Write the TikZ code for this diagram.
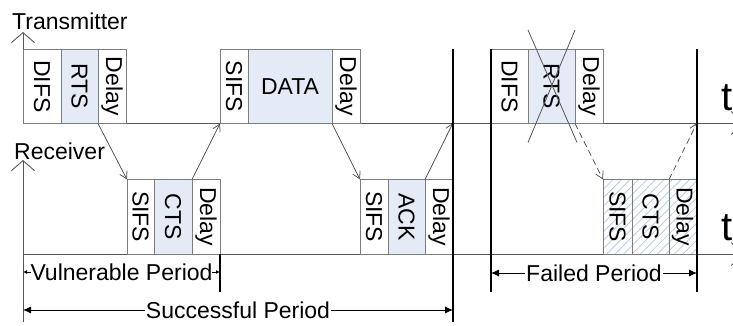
\documentclass[tikz,border=0pt]{standalone}
\usepackage{fontspec}
\setmainfont{Liberation Sans}
\usepackage{xcolor}
\usetikzlibrary{arrows.meta,positioning,patterns.meta}

\definecolor{boxgray}{RGB}{125,125,125}
\definecolor{axisgray}{RGB}{85,85,85}
\definecolor{pktblue}{RGB}{228,235,247}
\definecolor{hatchblue}{RGB}{178,196,228}
\newcommand{\vtxt}[1]{\rotatebox{-90}{#1}}

\begin{document}
\begin{tikzpicture}[
  x=1pt, y=-1pt,
  slot/.style={draw=boxgray, line width=0.9pt, minimum height=74.5pt, inner sep=0pt, outer sep=0pt, font=\fontsize{23}{23}\selectfont},
  pkt/.style={slot, fill=pktblue},
  lost/.style={slot, pattern={Lines[angle=45,distance=6pt,line width=0.7pt]}, pattern color=hatchblue},
  lbl/.style={font=\fontsize{23}{23}\selectfont, inner sep=0pt},
  tlbl/.style={font=\fontsize{40}{40}\selectfont, inner sep=0pt},
  axis/.style={draw=axisgray, line width=0.9pt},
  bound/.style={draw=black, line width=1.3pt},
  sig/.style={-{Straight Barb[length=7pt,width=8pt]}, draw=axisgray, line width=0.8pt},
  periodarr/.style={{Latex[length=8pt,width=7pt]}-{Latex[length=8pt,width=7pt]}, line width=0.8pt}
]
\useasboundingbox (0,0) rectangle (733,326);

% axes
\coordinate (torig) at (23,123);
\coordinate (ttop) at (23,32);
\coordinate (tend) at (742,123);
\coordinate (rorig) at (23,254);
\coordinate (rtop) at (23,160);
\coordinate (rend) at (742,254);
\draw[axis, -{Straight Barb[length=10pt,width=23pt]}] (torig) -- (ttop);
\draw[axis, -{Straight Barb[length=10pt,width=23pt]}] (torig) -- (tend);
\draw[axis, -{Straight Barb[length=10pt,width=23pt]}] (rorig) -- (rtop);
\draw[axis, -{Straight Barb[length=10pt,width=23pt]}] (rorig) -- (rend);
\node[lbl, anchor=west] (tx) at (12,21) {Transmitter};
\node[lbl, anchor=west] (rx) at (14,151) {Receiver};
\node[tlbl, anchor=west] (tt) at (721,98) {t};
\node[tlbl, anchor=west] (rt) at (721,228) {t};

% transmitter frames
\node[slot, minimum width=38pt, anchor=north west] (tdifs) at (23,49) {\vtxt{DIFS}};
\node[pkt, minimum width=37pt, right=0pt of tdifs] (trts) {\vtxt{RTS}};
\node[slot, minimum width=28pt, right=0pt of trts] (tdelay) {\vtxt{Delay}};
\node[slot, minimum width=28pt, anchor=north west] (tsifs) at (220,49) {\vtxt{SIFS}};
\node[pkt, minimum width=84pt, right=0pt of tsifs] (tdata) {DATA};
\node[slot, minimum width=28pt, right=0pt of tdata] (tdelay2) {\vtxt{Delay}};
\node[slot, minimum width=37pt, anchor=north west] (fdifs) at (491,49) {\vtxt{DIFS}};
\node[pkt, minimum width=47pt, right=0pt of fdifs] (frts) {\vtxt{RTS}};
\node[slot, minimum width=28pt, right=0pt of frts] (fdelay) {\vtxt{Delay}};
\draw[axisgray, line width=0.8pt] ([shift={(0,-19)}]frts.north west) -- ([shift={(2,19)}]frts.south east);
\draw[axisgray, line width=0.8pt] ([shift={(0,-19)}]frts.north east) -- ([shift={(0,19)}]frts.south west);

% receiver frames
\node[slot, minimum width=27pt, anchor=north west] (rsifs) at (127,179.5) {\vtxt{SIFS}};
\node[pkt, minimum width=38pt, right=0pt of rsifs] (rcts) {\vtxt{CTS}};
\node[slot, minimum width=28pt, right=0pt of rcts] (rdelay) {\vtxt{Delay}};
\node[slot, minimum width=28pt, anchor=north west] (rsifs2) at (360,179.5) {\vtxt{SIFS}};
\node[pkt, minimum width=37pt, right=0pt of rsifs2] (rack) {\vtxt{ACK}};
\node[slot, minimum width=28pt, right=0pt of rack] (rdelay2) {\vtxt{Delay}};
\node[lost, minimum width=29pt, anchor=north west] (fsifs) at (603,179.5) {\vtxt{SIFS}};
\node[lost, minimum width=37pt, right=0pt of fsifs] (fcts) {\vtxt{CTS}};
\node[lost, minimum width=27pt, right=0pt of fcts] (fdelay2) {\vtxt{Delay}};

% exchanges
\coordinate (okend) at (453,123);
\coordinate (failend) at (697,123);
\draw[sig] (trts.south east) -- (rsifs.north west);
\draw[sig] (rcts.north east) -- (tsifs.south west);
\draw[sig] (tdata.south east) -- (rsifs2.north west);
\draw[sig] (rack.north east) -- (okend);
\draw[sig, dash pattern=on 6pt off 4pt] (frts.south east) -- (fsifs.north west);
\draw[sig, dash pattern=on 6pt off 4pt] (fcts.north east) -- (failend);

% periods
\coordinate (okb) at (453,49);
\coordinate (okbot) at (453,322);
\coordinate (leftbot) at (23,322);
\coordinate (vulb) at (220,254);
\coordinate (vulbot) at (220,292);
\coordinate (failtop) at (491,49);
\coordinate (failbot) at (491,292);
\coordinate (fendtop) at (697,49);
\coordinate (fendbot) at (697,292);
\draw[axis] (rorig) -- (leftbot);
\draw[bound] (okb) -- (okbot);
\draw[bound] (vulb) -- (vulbot);
\draw[bound] (failtop) -- (failbot);
\draw[bound] (fendtop) -- (fendbot);

\coordinate (vulL) at (23,272);
\coordinate (vulR) at (220,272);
\coordinate (succL) at (23,310);
\coordinate (succR) at (453,310);
\coordinate (failL) at (491,273);
\coordinate (failR) at (697,273);
\draw[{Latex[length=4pt,width=4pt]}-{Latex[length=4pt,width=4pt]}, line width=0.8pt] (vulL) -- node[lbl, fill=white] (vul) {Vulnerable Period} (vulR);
\draw[periodarr] (succL) -- node[lbl, fill=white, inner xsep=1pt] (succ) {Successful Period} (succR);
\draw[periodarr] (failL) -- node[lbl, fill=white, inner xsep=1pt] (fail) {Failed Period} (failR);
\end{tikzpicture}
\end{document}
